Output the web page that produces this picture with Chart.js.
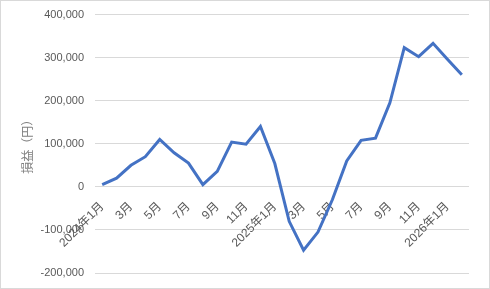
<!DOCTYPE html>
<html>
<head>
<meta charset="utf-8">
<script src="https://cdn.jsdelivr.net/npm/chart.js@4/dist/chart.umd.min.js"></script>
<style>
html,body{margin:0;padding:0;background:#fff;}
#wrap{width:490px;height:289px;box-sizing:border-box;border:1px solid #d9d9d9;position:relative;}
#wrap canvas{display:block;}
</style>
</head>
<body>
<div id="wrap"><canvas id="c" width="488" height="287"></canvas></div>
<script>
const categories = ["2024年1月","2月","3月","4月","5月","6月","7月","8月","9月","10月","11月","12月",
  "2025年1月","2月","3月","4月","5月","6月","7月","8月","9月","10月","11月","12月",
  "2026年1月","2月"];
const profit = [5000, 20000, 50000, 70000, 110000, 79000, 55000, 5000, 36000, 104000, 99000, 140000,
  54000, -80000, -147000, -105000, -30000, 60000, 108000, 113000, 195000, 323000, 302000, 333000,
  296000, 260000];
const yTicks = [-200000, -100000, 0, 100000, 200000, 300000, 400000];
const yTitle = "損益（円）";

const FONT = "'Liberation Sans', 'Noto Sans CJK JP', sans-serif";

new Chart(document.getElementById('c'), {
  type: 'line',
  data: {
    labels: categories,
    datasets: [{
      data: profit,
      borderColor: '#4472C4',
      borderWidth: 3,
      pointRadius: 0,
      tension: 0,
      fill: false
    }]
  },
  options: {
    responsive: false,
    animation: false,
    events: [],
    layout: { padding: { top: 13.5, right: 20, bottom: 15, left: 0 } },
    plugins: { legend: { display: false }, tooltip: { enabled: false } },
    scales: {
      x: {
        position: { y: 0 },
        offset: true,
        grid: { display: false, drawTicks: false },
        border: { display: false },
        ticks: {
          autoSkip: false,
          minRotation: 45,
          maxRotation: 45,
          padding: 13.5,
          color: '#595959',
          font: { family: FONT, size: 12, lineHeight: 1.0 },
          callback: function(v, i) { return i % 2 === 0 ? categories[i] : ''; }
        },
        afterFit: function(s) { s.height = 0; }
      },
      y: {
        min: yTicks[0],
        max: yTicks[yTicks.length - 1],
        afterBuildTicks: function(s) { s.ticks = yTicks.map(v => ({ value: v })); },
        grid: { color: '#d9d9d9', lineWidth: 1, drawTicks: true, tickLength: 11, tickColor: 'rgba(0,0,0,0)' },
        border: { display: false },
        ticks: {
          padding: 0,
          color: '#595959',
          font: { family: FONT, size: 11 },
          callback: function(v) { return Number(v).toLocaleString('en-US'); }
        },
        title: {
          display: true,
          text: yTitle,
          color: '#808080',
          font: { family: "'Noto Sans CJK JP', sans-serif", size: 12 },
          padding: { top: 19.3, bottom: 0 }
        },
        afterFit: function(s) { s.width = 94; }
      }
    }
  }
});
</script>
</body>
</html>
